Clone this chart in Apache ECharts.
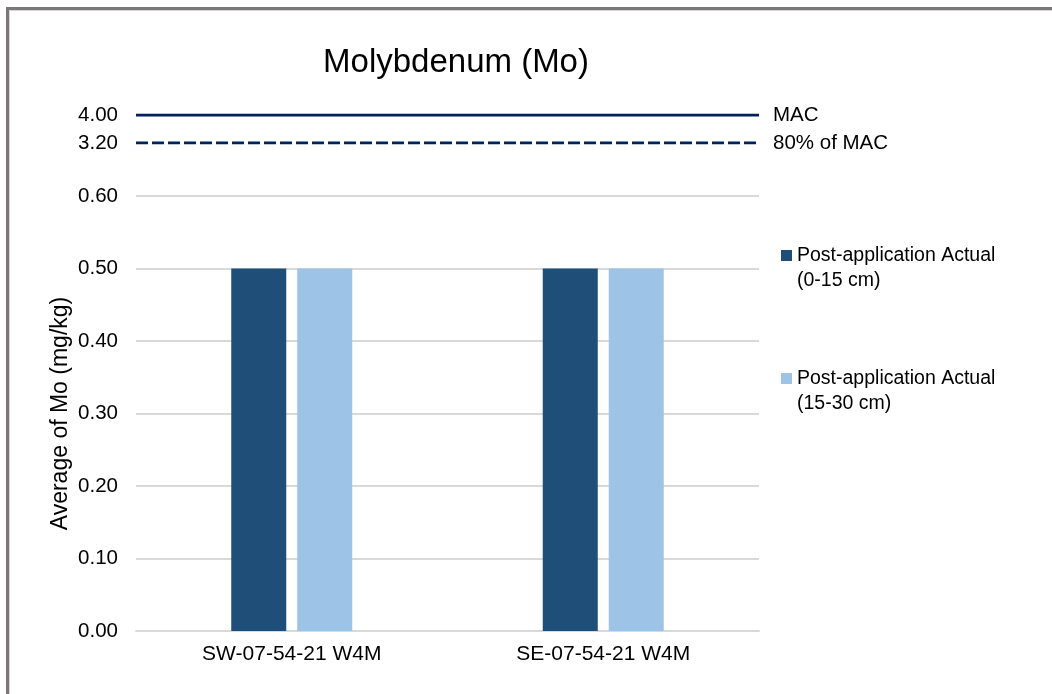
<!DOCTYPE html>
<html>
<head>
<meta charset="utf-8">
<script src="https://cdn.jsdelivr.net/npm/echarts@6/dist/echarts.min.js"></script>
<style>
html,body{margin:0;padding:0;background:#fff;}
#wrap{position:relative;width:1052px;height:694px;overflow:hidden;}
#frame{position:absolute;left:6px;top:7px;width:1100px;height:800px;border-top:3px solid #7b7776;border-left:3px solid #7b7776;box-shadow:inset 1px 1px 0 #d6d6d6;}
#chart{position:absolute;left:0;top:0;width:1052px;height:694px;}
</style>
</head>
<body>
<div id="wrap"><div id="frame"></div><div id="chart"></div></div>
<script>
// ---- data ----
const titleText = 'Molybdenum (Mo)';
const categories = ['SW-07-54-21 W4M', 'SE-07-54-21 W4M'];
const seriesNames = ['Post-application Actual (0-15 cm)', 'Post-application Actual (15-30 cm)'];
const actual0to15 = [0.50, 0.50];
const actual15to30 = [0.50, 0.50];
const macValue = 4.00;
const mac80Value = 3.20;
const macNames = ['MAC', '80% of MAC'];
const yAxisName = 'Average of Mo (mg/kg)';

const chart = echarts.init(document.getElementById('chart'), null, {renderer: 'canvas'});
const font = "'Liberation Sans', Arial, sans-serif";
const plotLeft = 136, plotRight = 1052 - 759;

chart.setOption({
  backgroundColor: 'transparent',
  animation: false,
  textStyle: {fontFamily: font},
  title: {
    text: titleText,
    left: 451, top: 41, textAlign: 'center',
    textStyle: {fontFamily: font, fontSize: 33, fontWeight: 'normal', color: '#000'}
  },
  legend: {
    orient: 'vertical',
    left: 781, top: 218, padding: 0,
    itemWidth: 11, itemHeight: 11, itemGap: 48,
    icon: 'rect',
    data: seriesNames,
    formatter: function (n) { return '\n' + n.replace(' (', '\n('); },
    textStyle: {fontFamily: font, fontSize: 19.5, color: '#000', lineHeight: 25}
  },
  grid: [
    {left: plotLeft, right: plotRight, top: 196, bottom: 63},
    {left: plotLeft, right: plotRight, top: 115, height: 28}
  ],
  xAxis: [
    {
      gridIndex: 0, type: 'category', data: categories,
      axisLine: {show: true, lineStyle: {color: '#d9d9d9', width: 2}},
      axisTick: {show: false},
      axisLabel: {fontFamily: font, fontSize: 21, color: '#000', margin: 13}
    },
    {
      gridIndex: 1, type: 'category', data: ['a', 'b'], boundaryGap: false,
      show: false
    }
  ],
  yAxis: [
    {
      gridIndex: 0, type: 'value', min: 0, max: 0.6, interval: 0.1,
      name: yAxisName, nameLocation: 'middle', nameGap: 64, nameMoveOverlap: false,
      nameTextStyle: {fontFamily: font, fontSize: 23, color: '#000'},
      axisLine: {show: false}, axisTick: {show: false},
      axisLabel: {fontFamily: font, fontSize: 20.5, color: '#000', margin: 18,
        formatter: v => v.toFixed(2)},
      splitLine: {lineStyle: {color: '#d9d9d9', width: 2}}
    },
    {
      gridIndex: 1, type: 'value', min: mac80Value, max: macValue, interval: macValue - mac80Value,
      axisLine: {show: false}, axisTick: {show: false}, splitLine: {show: false},
      axisLabel: {fontFamily: font, fontSize: 20.5, color: '#000', margin: 18,
        formatter: v => v.toFixed(2)}
    }
  ],
  series: [
    {
      name: seriesNames[0], type: 'bar', xAxisIndex: 0, yAxisIndex: 0,
      data: actual0to15, barWidth: 55, barGap: '20%',
      itemStyle: {color: '#1f4e79'}
    },
    {
      name: seriesNames[1], type: 'bar', xAxisIndex: 0, yAxisIndex: 0,
      data: actual15to30, barWidth: 55, barGap: '20%',
      itemStyle: {color: '#9dc3e6'}
    },
    {
      name: macNames[0], type: 'line', xAxisIndex: 1, yAxisIndex: 1,
      data: [macValue, macValue], symbol: 'none',
      lineStyle: {color: '#002060', width: 3},
      endLabel: {show: true, formatter: '{a}', distance: 14,
        fontFamily: font, fontSize: 20.5, color: '#000'}
    },
    {
      name: macNames[1], type: 'line', xAxisIndex: 1, yAxisIndex: 1,
      data: [mac80Value, mac80Value], symbol: 'none',
      lineStyle: {color: '#002060', width: 3, type: [12, 4]},
      endLabel: {show: true, formatter: '{a}', distance: 14,
        fontFamily: font, fontSize: 20.5, color: '#000'}
    }
  ]
});
</script>
</body>
</html>
